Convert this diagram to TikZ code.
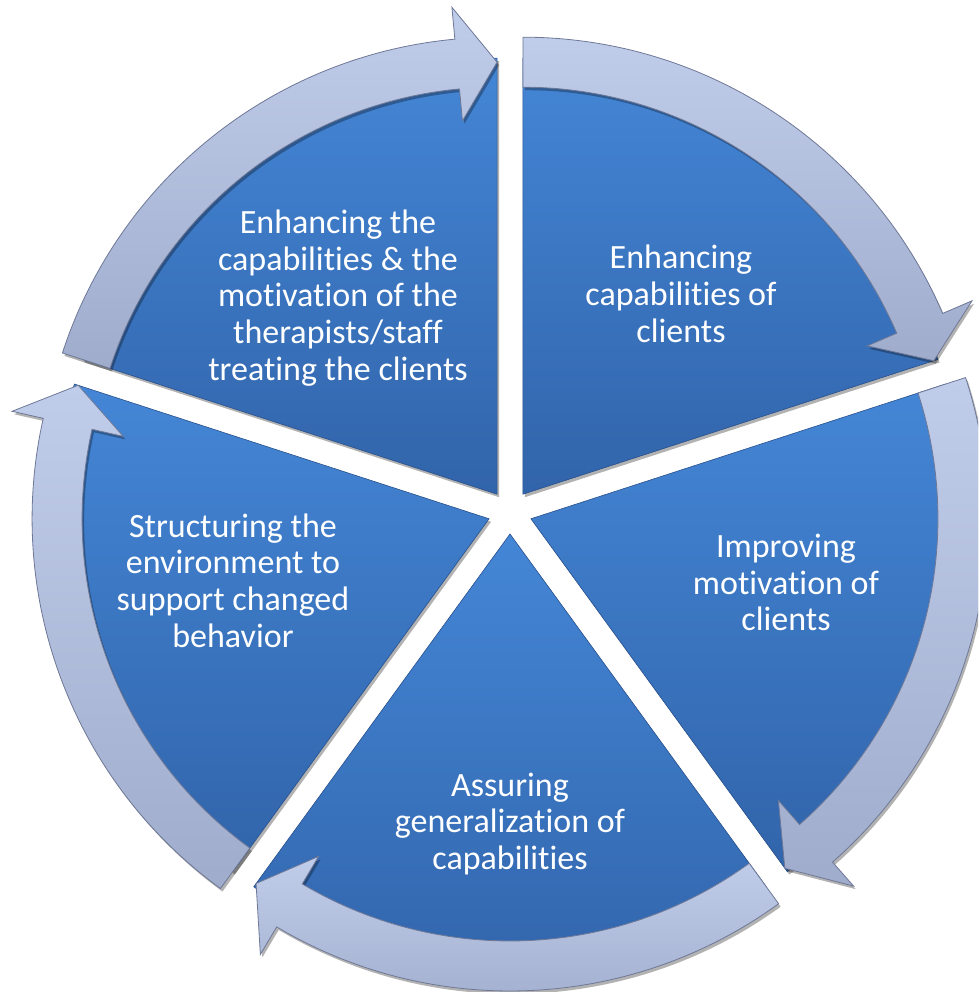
\documentclass[tikz,border=0pt]{standalone}
\usepackage{fontspec}
\setmainfont{Carlito}[Ligatures={NoCommon,NoRare}]
\usetikzlibrary{shadows}
\definecolor{segtop}{RGB}{68,134,214}
\definecolor{segbot}{RGB}{49,100,170}
\definecolor{segedge}{RGB}{40,80,140}
\definecolor{arrtop}{RGB}{192,205,234}
\definecolor{arrbot}{RGB}{160,172,204}
\definecolor{arredge}{RGB}{110,120,150}
\newcommand{\lbfont}{\fontsize{34}{36.8}\selectfont}
\newcommand{\mkarrow}[2]{%
  \pgfmathsetmacro\arrE{#2-72}%
  \pgfmathsetmacro\arrB{#2-72+5.3}%
  \begin{scope}[shift={(#1)}]
    \path[arrowband] (#2:457) arc[start angle=#2, end angle=\arrB, radius=457]
      -- (\arrB:489) -- (\arrE:432) -- (\arrB:375) -- (\arrB:407)
      arc[start angle=\arrB, end angle=#2, radius=407] -- cycle;
  \end{scope}}
\tikzset{
  seg/.style={top color=segtop, bottom color=segbot, draw=segedge, line width=0.6,
    drop shadow={shadow xshift=2, shadow yshift=-3, opacity=0.3, fill=black}},
  arrowband/.style={top color=arrtop, bottom color=arrbot, draw=arredge, line width=0.8,
    drop shadow={shadow xshift=2, shadow yshift=-3, opacity=0.3, fill=black}},
  lbl/.style={text=white, align=center, font=\lbfont, inner sep=0pt}
}
\begin{document}
\begin{tikzpicture}[x=1pt,y=1pt]
\useasboundingbox (0,0) rectangle (978,992);
\clip (0,0) rectangle (978,992);
% segment centres (each segment pushed outward from the middle)
\coordinate (o1) at (522.93,497.80);
\coordinate (o2) at (530.92,473.20);
\coordinate (o3) at (510,458);
\coordinate (o4) at (489.08,473.20);
\coordinate (o5) at (497.07,497.80);
% pie segments
\path[seg] (o1) -- ++(90:436) arc[start angle=90, end angle=18, radius=436] -- cycle;
\path[seg] (o2) -- ++(18:436) arc[start angle=18, end angle=-54, radius=436] -- cycle;
\path[seg] (o3) -- ++(-54:436) arc[start angle=-54, end angle=-126, radius=436] -- cycle;
\path[seg] (o4) -- ++(-126:436) arc[start angle=-126, end angle=-198, radius=436] -- cycle;
\path[seg] (o5) -- ++(162:436) arc[start angle=162, end angle=90, radius=436] -- cycle;
% circular arrows
\mkarrow{o1}{90}
\mkarrow{o2}{18}
\mkarrow{o3}{-54}
\mkarrow{o4}{-126}
\mkarrow{o5}{162}
% labels
\node[lbl] (t1) at (681,698) {Enhancing\\capabilities of\\clients};
\node[lbl] (t2) at (786,409.5) {Improving\\motivation of\\clients};
\node[lbl] (t3) at (510,168) {Assuring\\generalization of\\capabilities};
\node[lbl] (t4) at (233,411.4) {Structuring the\\environment to\\support changed\\behavior};
\node[lbl] (t5) at (338,694) {Enhancing the\\capabilities \& the\\motivation of the\\therapists/staff\\treating the clients};
\end{tikzpicture}
\end{document}
